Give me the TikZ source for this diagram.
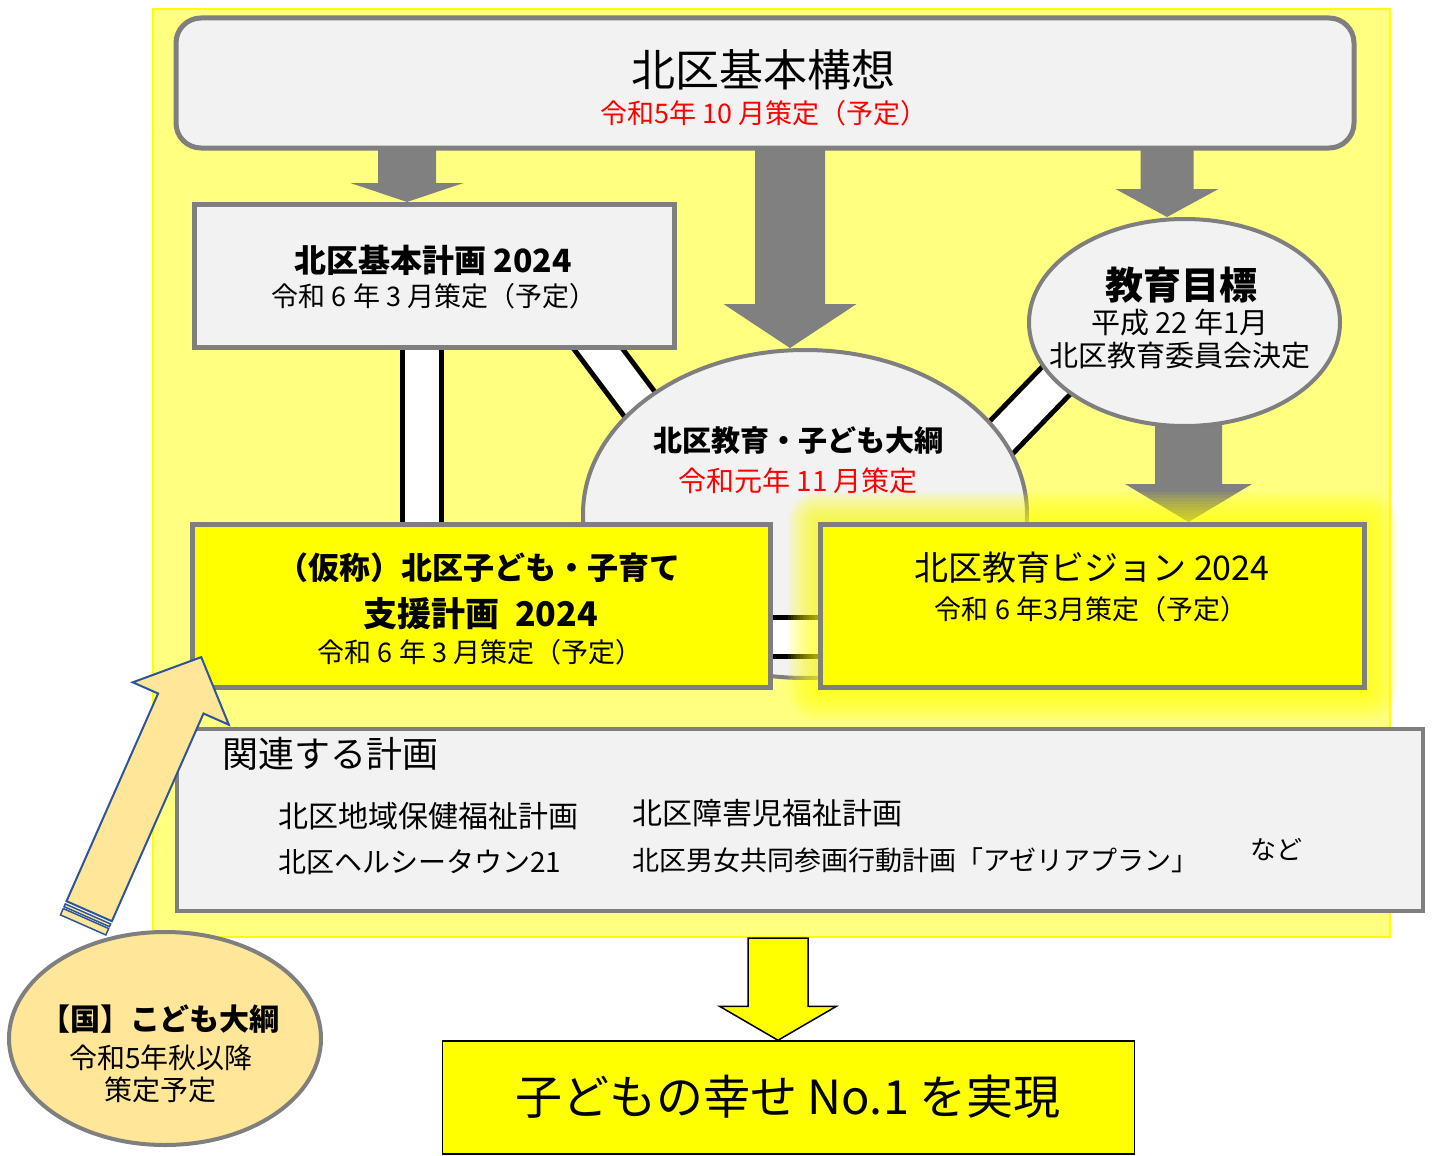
\documentclass[tikz,border=0pt]{standalone}
\usepackage{fontspec}
\setmainfont{Noto Sans CJK JP}
\usetikzlibrary{calc,positioning,shapes.geometric}
\pgfdeclarelayer{back}
\pgfdeclarelayer{background}
\pgfdeclarelayer{foreground}
\pgfdeclarelayer{front}
\pgfsetlayers{back,background,main,foreground,front}

\definecolor{boxgray}{HTML}{F2F2F2}
\definecolor{linegray}{HTML}{7F7F7F}
\definecolor{arrowgray}{HTML}{808080}
\definecolor{paleyellow}{HTML}{FFFF80}
\definecolor{planyellow}{HTML}{FFFF00}
\definecolor{peach}{HTML}{FFE699}
\definecolor{navy}{HTML}{2F5597}
\definecolor{plainred}{HTML}{FF0000}

\newcommand{\fsz}[1]{\fontsize{#1}{#1}\selectfont}

\tikzset{
  backplate/.style={draw=planyellow, line width=2pt, fill=paleyellow, inner sep=0pt},
  graybox/.style={draw=linegray, line width=5pt, fill=boxgray, inner sep=0pt},
  yellowbox/.style={graybox, fill=planyellow},
  resultbox/.style={draw=black, line width=1.5pt, fill=planyellow, inner sep=0pt},
  oval/.style={ellipse, draw=linegray, line width=4pt, fill=boxgray, inner sep=0pt},
  txt/.style={inner sep=0pt, align=center},
  redtxt/.style={txt, text=plainred},
  strip/.style={draw=black, line width=5pt, double=white, double distance=34pt},
  grayarrow/.style={fill=arrowgray},
  yellowarrow/.style={fill=planyellow, draw=black, line width=1.5pt, line join=miter},
  peacharrow/.style={fill=peach, draw=navy, line width=2pt, line join=miter},
  blockarrow/.style n args={3}{to path={let \p1=(\tikztostart), \p2=(\tikztotarget) in
    (\x1-#1,\y1) -- (\x1+#1,\y1) -- (\x1+#1,\y2+#3) -- (\x1+#2,\y2+#3) -- (\x1,\y2)
    -- (\x1-#2,\y2+#3) -- (\x1-#1,\y2+#3) -- cycle}},
}

\begin{document}
\begin{tikzpicture}[x=1pt, y=-1pt]
    \useasboundingbox (0,0) rectangle (1433,1156);

    \begin{pgfonlayer}{back}
    \node [backplate, minimum width=1237pt, minimum height=928pt] (plate) at (771.5,473) {};
    \end{pgfonlayer}

    \node [graybox, rounded corners=25pt, minimum width=1178pt, minimum height=130pt] (concept) at (765,83) {};
    \node [txt, font=\fsz{44}] (concepttitle) at (763,70) {北区基本構想};
    \node [redtxt, font=\fsz{27}] (conceptdate) at (764,113) {令和5年 10 月策定（予定）};

    \node [graybox, minimum width=480pt, minimum height=143pt] (plan) at (434,276) {};
    \node [txt, font=\fsz{32}\bfseries] (plantitle) at (433,260) {北区基本計画 2024};
    \node [txt, font=\fsz{27}] (plandate) at (434,296) {令和 6 年 3 月策定（予定）};

    \node [oval, minimum width=444pt, minimum height=328pt] (taiko) at (805,514) {};
    \node [txt, font=\fsz{29}\bfseries] (taikotitle) at (798,441) {北区教育・子ども大綱};
    \node [redtxt, font=\fsz{28}] (taikodate) at (798,481) {令和元年 11 月策定};

    \node [oval, minimum width=311pt, minimum height=207pt] (goal) at (1184.5,322.5) {};
    \node [txt, font=\fsz{38}\bfseries] (goaltitle) at (1181,285) {教育目標};
    \node [txt, font=\fsz{29}] (goaldate) at (1180,323) {平成 22 年1月};
    \node [txt, font=\fsz{29}] (goalby) at (1180,356) {北区教育委員会決定};

    \begin{pgfonlayer}{foreground}
    \node [yellowbox, minimum width=578pt, minimum height=163pt] (childplan) at (481,606) {};
    \node [txt, font=\fsz{31}\bfseries] (childtitle) at (479,568) {（仮称）北区子ども・子育て};
    \node [txt, font=\fsz{34}\bfseries] (childtitleb) at (481,614) {支援計画\hspace{0.45em}2024};
    \node [txt, font=\fsz{27}] (childdate) at (480,652) {令和 6 年 3 月策定（予定）};

    \node [yellowbox, minimum width=544pt, minimum height=163pt] (vision) at (1092.5,606) {};
    \node [txt, font=\fsz{34}] (visiontitle) at (1092,568) {北区教育ビジョン 2024};
    \node [txt, font=\fsz{27}] (visiondate) at (1091,609) {令和 6 年3月策定（予定）};

    \node [graybox, line width=4pt, minimum width=1246pt, minimum height=182pt] (related) at (800,820) {};
    \node [txt, anchor=west, font=\fsz{36}] (relhead) at (222,754) {関連する計画};
    \node [txt, anchor=west, font=\fsz{30}] (relwelfare) at (278,816) {北区地域保健福祉計画};
    \node [txt, anchor=west, font=\fsz{28}] (relhealthy) at (278,862) {北区ヘルシータウン21};
    \node [txt, anchor=west, font=\fsz{30}] (reldisab) at (632,813) {北区障害児福祉計画};
    \node [txt, anchor=west, font=\fsz{27}] (relgender) at (632,860) {北区男女共同参画行動計画「アゼリアプラン」};
    \node [txt, anchor=west, font=\fsz{26}] (reletc) at (1250,850) {など};

    \node [resultbox, minimum width=692pt, minimum height=113pt] (result) at (788.5,1097.5) {};
    \node [txt, font=\fsz{47}] (resulttext) at (788,1097) {子どもの幸せ No.1 を実現};

    \node [oval, fill=peach, minimum width=312pt, minimum height=213pt] (national) at (165,1038.5) {};
    \node [txt, font=\fsz{30}\bfseries] (nattitle) at (160,1019) {【国】こども大綱};
    \node [txt, font=\fsz{28}] (natdate) at (161,1058) {令和5年秋以降};
    \node [txt, font=\fsz{28}] (natplan) at (160,1090) {策定予定};
    \end{pgfonlayer}

    \draw [strip] ([yshift=-31pt]childplan.east) -- ([yshift=-31pt]vision.west);
    \foreach \g in {3,6,...,30}
        \fill [planyellow, opacity=0.1, rounded corners=\g pt] ($(vision.south west)+(-\g,\g)$) rectangle ($(vision.north east)+(\g,-\g)$);

    \coordinate (a1) at (407,148);
    \coordinate (a1tip) at (a1 |- plan.north);
    \coordinate (a2) at (790,148);
    \coordinate (a2tip) at (a2 |- taiko.north);
    \coordinate (a3) at (1167,148);
    \coordinate (a3tip) at (a3 |- goal.north);
    \coordinate (a4) at (1188.5,420);
    \coordinate (a4tip) at (a4 |- vision.north);
    \coordinate (a5) at (778,938);
    \coordinate (a5tip) at (a5 |- result.north);
    \coordinate (s1) at ([xshift=-12pt]plan.south);
    \coordinate (s2a) at (581,326);
    \coordinate (s2b) at (653,422);
    \coordinate (s3a) at (965,475);
    \coordinate (s3b) at (1062,374.5);

    \begin{pgfonlayer}{background}
    \fill [grayarrow, blockarrow={29}{56.5}{19}] (a1) to (a1tip);
    \fill [grayarrow, blockarrow={35}{66.5}{44}] (a2) to (a2tip);
    \fill [grayarrow, blockarrow={26.5}{51.5}{28}] (a3) to (a3tip);
    \fill [grayarrow, blockarrow={33.5}{63.5}{38}] (a4) to (a4tip);

    \draw [strip] (s1) -- (s1 |- childplan.north);
    \draw [strip] (s2a) -- (s2b);
    \draw [strip] (s3a) -- (s3b);
    \end{pgfonlayer}

    \draw [yellowarrow, blockarrow={30}{58.5}{34}] (a5) to (a5tip);

    \begin{pgfonlayer}{front}
    \begin{scope}[shift={(89.2,911.2)}, rotate=66.2]
        \draw [peacharrow] (0,-24.8) -- (227,-24.8) -- (227,-52.5) -- (277.7,0) -- (227,52.5) -- (227,24.8) -- (0,24.8) -- cycle;
        \draw [peacharrow, line width=1.5pt] (-3,-24.8) rectangle (-6,24.8);
        \draw [peacharrow, line width=1.5pt] (-8,-24.8) rectangle (-15,24.8);
    \end{scope}
    \end{pgfonlayer}
\end{tikzpicture}
\end{document}
